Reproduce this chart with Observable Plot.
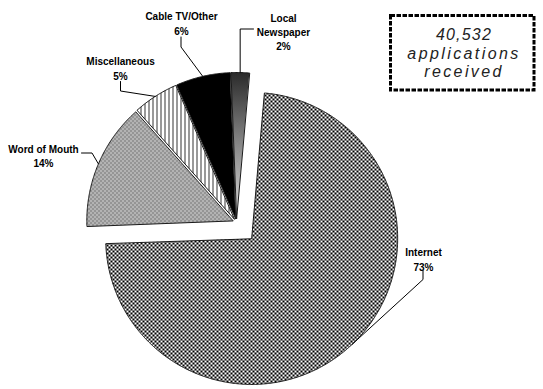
<!DOCTYPE html>
<html>
<head>
<meta charset="utf-8">
<script src="https://cdn.jsdelivr.net/npm/d3@7"></script>
<script src="https://cdn.jsdelivr.net/npm/@observablehq/plot@0.6"></script>
<style>
  html, body { margin: 0; padding: 0; background: #fff; }
  #chart { width: 543px; height: 389px; }
</style>
</head>
<body>
<div id="chart"></div>
<script>
// How applicants heard about the program, share of applications (%)
const sources = ["Internet", "Word of Mouth", "Miscellaneous", "Cable TV/Other", "Local Newspaper"];
const labelNames = ["Internet", "Word of Mouth", "Miscellaneous", "Cable TV/Other", "Local\nNewspaper"];
const shares = [73, 14, 5, 6, 2];
const totalApplications = 40532;
const boxLines = ["applications", "received"];

// ---- layout (px) ----
const W = 543, H = 389;
const CX = 236, CY = 222, R = 146;        // pie centre and radius
const START = 5;                           // first slice edge, degrees clockwise from 12 o'clock
const explode = [22, 4, 4, 4, 4];          // how far each slice is pulled out
const fills = ["url(#trellis)", "url(#dots)", "url(#vlines)", "#000", "url(#fade)"];
// first-line baseline of each label block, and where its leader line starts / bends
const labelAt = [[423, 253], [43, 149.5], [120, 62], [181, 17], [283, 18.5]];
const leaderFrom = [[422.5, 270], [81, 152.5], [120, 81], [180.5, 36.5], [253, 28.5]];
const leaderBend = [[422.5, 279], [91.5, 152.5], [120, 90.5], [180.5, 46.5], null];

const toRad = Math.PI / 180;
const pie = d3.pie().sort(null).value(d => d.share)
  .startAngle(START * toRad).endAngle(START * toRad + 2 * Math.PI);
const arcs = pie(sources.map((source, i) => ({source, share: shares[i], i})));

const slicePts = [], leaderPts = [], labels = [];
arcs.forEach((a, i) => {
  const source = a.data.source;
  const mid = (a.startAngle + a.endAngle) / 2;
  const ax = CX + explode[i] * Math.sin(mid), ay = CY - explode[i] * Math.cos(mid);
  slicePts.push({source, i, x: ax, y: ay});
  const n = Math.max(4, Math.ceil((a.endAngle - a.startAngle) / (0.5 * toRad)));
  for (let k = 0; k <= n; ++k) {
    const t = a.startAngle + (a.endAngle - a.startAngle) * k / n;
    slicePts.push({source, i, x: ax + R * Math.sin(t), y: ay - R * Math.cos(t)});
  }
  // leader runs from the label to the middle of the slice's rim
  const ex = ax + R * Math.sin(mid), ey = ay - R * Math.cos(mid);
  const from = leaderFrom[i];
  const bend = leaderBend[i] || [ex, from[1]];
  leaderPts.push({source, x: from[0], y: from[1]}, {source, x: bend[0], y: bend[1]}, {source, x: ex, y: ey});
  labels.push({source, x: labelAt[i][0], y: labelAt[i][1] - 7.2, text: `${labelNames[i]}\n${a.data.share}%`});
});

const svg = Plot.plot({
  width: W,
  height: H,
  margin: 0,
  x: {domain: [0, W], range: [0, W], axis: null},
  y: {domain: [0, H], range: [0, H], axis: null},
  color: {type: "identity"},
  style: {background: "#fff", fontFamily: "'Liberation Sans', Arial, sans-serif"},
  marks: [
    Plot.line(slicePts, {
      x: "x", y: "y", z: "source",
      fill: d => fills[d.i],
      stroke: "#1a1a1a", strokeWidth: 1,
      curve: "linear-closed"
    }),
    Plot.line(leaderPts, {x: "x", y: "y", z: "source", stroke: "#000", strokeWidth: 1}),
    Plot.text(labels, {
      x: "x", y: "y", text: "text",
      lineAnchor: "top", lineHeight: 1.42,
      fontSize: 10, fontWeight: "bold", fill: "#000"
    })
  ]
});

// fill patterns for the slices
d3.select(svg).insert("defs", ":first-child").html(`
  <pattern id="trellis" width="4" height="4" patternUnits="userSpaceOnUse">
    <rect width="4" height="4" fill="#000"/>
    <rect x="0" y="0" width="2" height="2" fill="#fff"/>
    <rect x="2" y="2" width="2" height="2" fill="#fff"/>
  </pattern>
  <pattern id="dots" width="4" height="4" patternUnits="userSpaceOnUse">
    <rect width="4" height="4" fill="#b3b3b3"/>
    <rect x="0" y="0" width="1" height="1" fill="#3a3a3a"/>
    <rect x="2" y="2" width="1" height="1" fill="#3a3a3a"/>
  </pattern>
  <pattern id="vlines" width="4" height="4" patternUnits="userSpaceOnUse">
    <rect width="4" height="4" fill="#fff"/>
    <rect x="0" y="0" width="1" height="4" fill="#333"/>
  </pattern>
  <linearGradient id="fade" x1="0" y1="0" x2="0" y2="1">
    <stop offset="0" stop-color="#2a2a2a"/>
    <stop offset="0.45" stop-color="#808080"/>
    <stop offset="1" stop-color="#dedede"/>
  </linearGradient>
`);

// total-applications note in a dashed frame
const note = d3.select(svg).append("g").attr("class", "note");
note.append("rect")
  .attr("x", 390.5).attr("y", 15.5).attr("width", 143.5).attr("height", 74.5)
  .attr("fill", "#fff").attr("stroke", "#000").attr("stroke-width", 3)
  .attr("stroke-dasharray", "4.5 1.5");
const noteLines = [d3.format(",")(totalApplications), ...boxLines];
note.selectAll("text").data(noteLines).join("text")
  .attr("x", 464).attr("y", (d, i) => 40 + i * 18.5)
  .attr("text-anchor", "middle")
  .attr("font-family", "'Liberation Sans', Arial, sans-serif")
  .attr("font-style", "italic").attr("font-size", 16).attr("fill", "#222")
  .attr("letter-spacing", (d, i) => i === 0 ? 1.2 : 2.4)
  .text(d => d);

document.getElementById("chart").append(svg);
</script>
</body>
</html>
